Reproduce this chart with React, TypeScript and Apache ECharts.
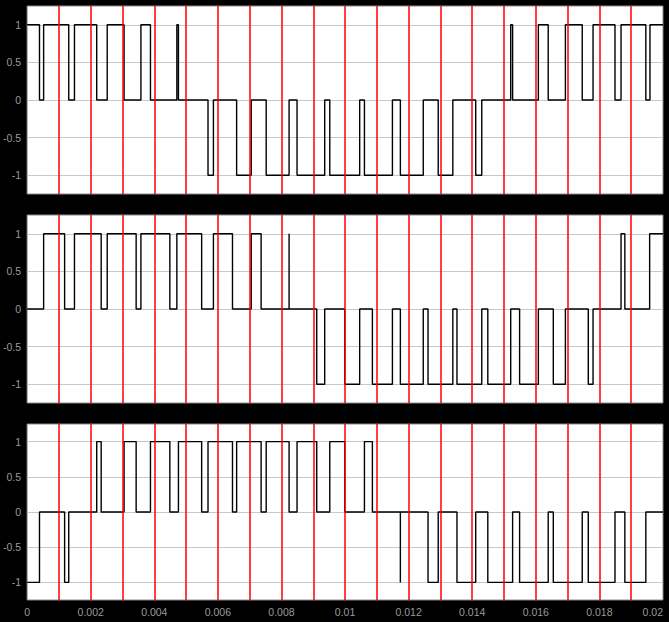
import React, { useEffect, useRef } from "react";
import * as echarts from "echarts";

// Switching instants (ms) and the level held from each instant on
const topTimesMs = [0, 0.39, 0.52, 1.31, 1.49, 2.19, 2.52, 3.05, 3.58, 3.88, 4.71, 4.76, 5.69, 5.86, 6.59, 7.05, 7.52, 8.24, 8.49, 9.36, 9.52, 10.46, 10.61, 11.49, 11.74, 12.46, 12.93, 13.39, 14.11, 14.3, 15.21, 15.27, 16.08, 16.39, 16.93, 17.46, 17.8, 18.49, 18.68, 19.46, 19.59, 20];
const topLevels = [1, 0, 1, 0, 1, 0, 1, 0, 1, 0, 1, 0, -1, 0, -1, 0, -1, 0, -1, 0, -1, 0, -1, 0, -1, 0, -1, 0, -1, 0, 1, 0, 1, 0, 1, 0, 1, 0, 1, 0, 1, 1];

const midTimesMs = [0, 0.52, 1.18, 1.49, 2.33, 2.52, 3.43, 3.58, 4.49, 4.71, 5.49, 5.86, 6.46, 7.05, 7.36, 8.24, 8.24, 9.11, 9.36, 9.99, 10.46, 10.86, 11.49, 11.74, 12.46, 12.61, 13.39, 13.52, 14.3, 14.49, 15.21, 15.49, 16.08, 16.55, 16.93, 17.65, 17.8, 18.68, 18.8, 19.58, 20];
const midLevels = [0, 1, 0, 1, 0, 1, 0, 1, 0, 1, 0, 1, 0, 1, 0, 1, 0, -1, 0, -1, 0, -1, 0, -1, 0, -1, 0, -1, 0, -1, 0, -1, 0, -1, 0, -1, 0, 1, 0, 1, 1];

const botTimesMs = [0, 0.39, 1.18, 1.31, 2.19, 2.33, 3.05, 3.43, 3.88, 4.49, 4.76, 5.49, 5.69, 6.46, 6.59, 7.36, 7.52, 8.24, 8.49, 9.11, 9.52, 9.99, 10.61, 10.86, 11.74, 11.74, 12.61, 12.93, 13.52, 14.11, 14.49, 15.27, 15.49, 16.39, 16.55, 17.46, 17.65, 18.49, 18.8, 19.46, 20];
const botLevels = [-1, 0, -1, 0, 1, 0, 1, 0, 1, 0, 1, 0, 1, 0, 1, 0, 1, 0, 1, 0, 1, 0, 1, 0, -1, 0, -1, 0, -1, 0, -1, 0, -1, 0, -1, 0, -1, 0, -1, 0, 0];

// Red reference lines (ms)
const markerTimesMs = [1, 2, 3, 4, 5, 6, 7, 8, 9, 10, 11, 12, 13, 14, 15, 16, 17, 18, 19];
// Y tick values
const yTicks = [-1, -0.5, 0, 0.5, 1];

const X_MIN = 0;
const X_MAX = 0.02;
const X_STEP = 0.002;
const Y_MIN = -1.25;
const Y_MAX = 1.25;

const FONT = "'Liberation Sans', Arial, sans-serif";

function toPairs(times: number[], levels: number[]) {
  return times.map((t, i) => [t / 1000, levels[i]]);
}

export default function App() {
  const ref = useRef<HTMLDivElement>(null);

  useEffect(() => {
    if (!ref.current) return;
    const chart = echarts.init(ref.current, undefined, { renderer: "svg" });

    const grids = [
      { left: 25, top: 6, width: 638, height: 188 },
      { left: 25, top: 215, width: 638, height: 188 },
      { left: 25, top: 424, width: 638, height: 176 },
    ].map((g) => ({
      ...g,
      show: true,
      backgroundColor: "#ffffff",
      borderColor: "#888888",
      borderWidth: 1,
    }));

    const signals = [
      toPairs(topTimesMs, topLevels),
      toPairs(midTimesMs, midLevels),
      toPairs(botTimesMs, botLevels),
    ];

    const xAxis: any[] = [];
    const yAxis: any[] = [];
    const series: any[] = [];

    for (let i = 0; i < 3; i++) {
      xAxis.push({
        type: "value",
        gridIndex: i,
        min: X_MIN,
        max: X_MAX,
        interval: X_STEP,
        axisLine: { show: false },
        axisTick: { show: false },
        splitLine: { show: false },
        axisLabel: {
          show: i === 2,
          color: "#9a9a9a",
          fontFamily: FONT,
          fontSize: 10.5,
          margin: 6,
          alignMaxLabel: "right",
        },
      });
      yAxis.push({
        type: "value",
        gridIndex: i,
        position: "left",
        min: Y_MIN,
        max: Y_MAX,
        axisLine: { show: false },
        axisTick: { show: false },
        splitLine: { show: false },
        axisLabel: {
          color: "#9a9a9a",
          fontFamily: FONT,
          fontSize: 10.5,
          margin: 6,
          customValues: yTicks,
        },
      });
      yAxis.push({
        type: "value",
        gridIndex: i,
        position: "right",
        min: Y_MIN,
        max: Y_MAX,
        axisLine: { show: false },
        axisTick: {
          show: true,
          inside: true,
          length: 6,
          lineStyle: { color: "#777777", width: 1 },
          customValues: yTicks,
        },
        splitLine: { show: false },
        axisLabel: { show: false },
      });

      // gray horizontal grid lines (behind the signal)
      series.push({
        type: "line",
        xAxisIndex: i,
        yAxisIndex: i * 2,
        data: [],
        silent: true,
        z: 1,
        markLine: {
          silent: true,
          z: 1,
          symbol: ["none", "none"],
          label: { show: false },
          lineStyle: { color: "#c8c8c8", width: 1, type: "solid" },
          data: yTicks.map((v) => ({ yAxis: v })),
        },
      });
      // signal, with the red reference lines on top
      series.push({
        type: "line",
        xAxisIndex: i,
        yAxisIndex: i * 2,
        data: signals[i],
        step: "end",
        showSymbol: false,
        symbol: "none",
        silent: true,
        z: 3,
        lineStyle: { color: "#000000", width: 1.4 },
        markLine: {
          silent: true,
          z: 6,
          symbol: ["none", "none"],
          label: { show: false },
          precision: 6,
          lineStyle: { color: "#ff0000", width: 1.5, type: "solid" },
          data: markerTimesMs.map((t) => ({ xAxis: t / 1000 })),
        },
      });
    }

    chart.setOption({
      animation: false,
      backgroundColor: "#000000",
      grid: grids,
      xAxis,
      yAxis,
      series,
    });

    return () => chart.dispose();
  }, []);

  return (
    <div
      ref={ref}
      style={{
        position: "fixed",
        left: 0,
        top: 0,
        width: 669,
        height: 622,
        background: "#000",
      }}
    />
  );
}
